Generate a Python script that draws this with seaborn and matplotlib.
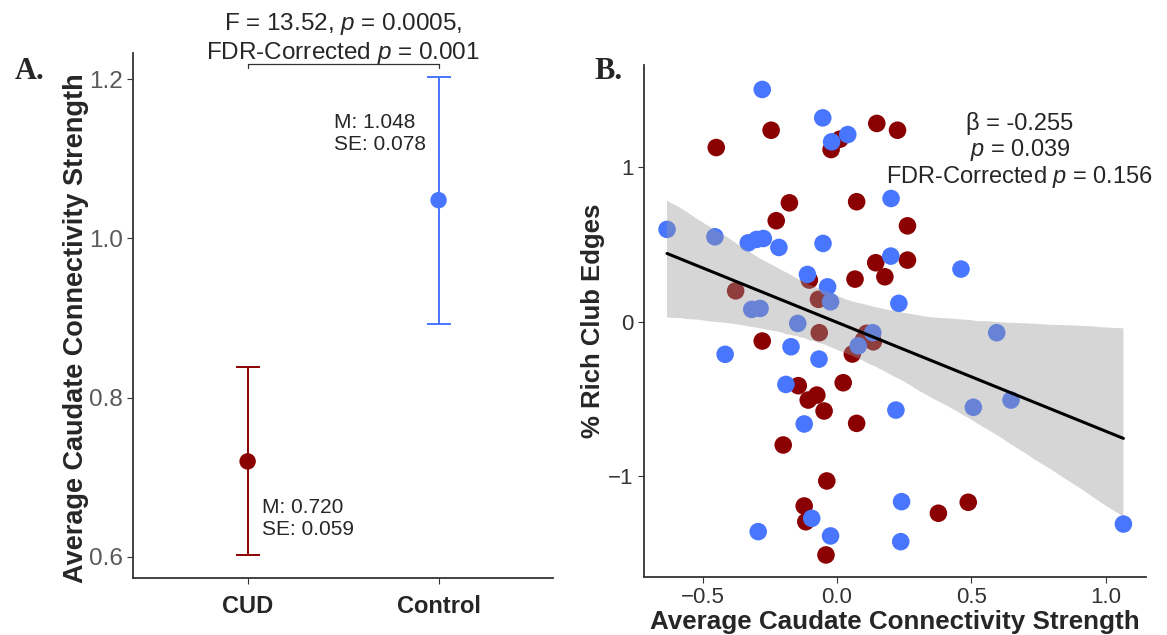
import numpy as np
import pandas as pd
import matplotlib.pyplot as plt
import seaborn as sns

# panel A: group means with error bars
groups = ['CUD', 'Control']
group_means = [0.720, 1.048]
group_se = [0.059, 0.078]
ci_low = [0.602, 0.893]
ci_high = [0.838, 1.203]

# panel B: caudate strength vs % rich club edges
cud_strength = [-0.449, -0.245, -0.022, 0.011, 0.148, 0.225, -0.177, 0.073, -0.226, 0.262,
                0.144, 0.262, 0.178, 0.067, -0.103, -0.377, -0.069, -0.278, -0.066, 0.110,
                0.135, 0.098, 0.057, -0.144, 0.023, -0.075, -0.107, -0.048, 0.073, -0.200,
                -0.038, -0.122, -0.116, -0.041, 0.377, 0.488]
cud_richclub = [1.127, 1.239, 1.114, 1.181, 1.283, 1.239, 0.769, 0.776, 0.653, 0.620,
                0.381, 0.398, 0.290, 0.275, 0.269, 0.199, 0.144, -0.126, -0.072, -0.076,
                -0.131, -0.120, -0.210, -0.415, -0.396, -0.476, -0.508, -0.579, -0.659, -0.799,
                -1.032, -1.194, -1.296, -1.511, -1.241, -1.170]
ctl_strength = [-0.278, -0.053, -0.020, 0.040, 0.201, -0.632, -0.454, -0.330, -0.299, -0.274,
                -0.216, -0.052, 0.200, 0.461, -0.110, -0.035, -0.024, 0.230, -0.317, -0.286,
                -0.146, 0.594, 0.133, 0.079, -0.171, -0.416, -0.067, -0.190, 0.219, 0.507,
                0.647, -0.122, 0.240, -0.094, -0.293, -0.024, 0.237, 1.065]
ctl_richclub = [1.503, 1.319, 1.164, 1.211, 0.797, 0.597, 0.549, 0.510, 0.532, 0.538,
                0.480, 0.506, 0.424, 0.340, 0.305, 0.225, 0.128, 0.118, 0.079, 0.085,
                -0.012, -0.072, -0.072, -0.157, -0.163, -0.212, -0.243, -0.407, -0.573, -0.555,
                -0.508, -0.663, -1.166, -1.274, -1.360, -1.388, -1.425, -1.311]

colors = {'CUD': '#8B0000', 'Control': '#4876FF'}

sns.set_style('ticks')
plt.rcParams['font.family'] = ['Liberation Sans', 'DejaVu Sans']
plt.rcParams['mathtext.fontset'] = 'custom'
plt.rcParams['mathtext.rm'] = 'Liberation Sans'
plt.rcParams['mathtext.it'] = 'Liberation Sans:italic'

fig = plt.figure(figsize=(11.67, 6.35), dpi=100)
ax1 = fig.add_axes([0.114, 0.0898, 0.360, 0.827])
ax2 = fig.add_axes([0.552, 0.0913, 0.430, 0.806])

# ---- panel A
summary = pd.DataFrame({'group': groups, 'mean': group_means, 'low': ci_low, 'high': ci_high})
sns.scatterplot(data=summary, x='group', y='mean', hue='group', palette=colors,
                s=140, edgecolor='none', legend=False, ax=ax1, zorder=3)
for _, row in summary.iterrows():
    ax1.errorbar([row['group']], [row['mean']],
                 yerr=[[row['mean'] - row['low']], [row['high'] - row['mean']]],
                 fmt='none', ecolor=colors[row['group']], elinewidth=1.4,
                 capsize=8.5, capthick=1.4)

ax1.text(0.075, 0.648, 'M: %.3f\nSE: %.3f' % (group_means[0], group_se[0]),
         ha='left', va='center', fontsize=15, linespacing=1.2)
ax1.text(0.45, 1.132, 'M: %.3f\nSE: %.3f' % (group_means[1], group_se[1]),
         ha='left', va='center', fontsize=15, linespacing=1.2)

ax1.plot([0, 0, 1, 1], [1.214, 1.219, 1.219, 1.214], color='#333333', lw=0.9, clip_on=False)
ax1.text(0.5, 1.251, 'F = 13.52, $p$ = 0.0005,\nFDR-Corrected $p$ = 0.001',
         ha='center', va='center', fontsize=17.5, linespacing=1.15, clip_on=False)

ax1.set_xlim(-0.6, 1.6)
ax1.set_ylim(0.5736, 1.233)
ax1.set_yticks([0.6, 0.8, 1.0, 1.2])
ax1.set_yticklabels(['0.6', '0.8', '1.0', '1.2'])
ax1.set_xlabel('')
ax1.set_ylabel('Average Caudate Connectivity Strength', fontsize=19.5, fontweight='bold')
ax1.yaxis.set_label_coords(-0.105, 0.476)
ax1.tick_params(axis='y', labelsize=17.5, labelcolor='#595959', length=4, color='#333333')
ax1.tick_params(axis='x', labelsize=17, length=4, color='#333333', pad=8)
for lab in ax1.get_xticklabels():
    lab.set_fontweight('bold')

# ---- panel B
df = pd.DataFrame({
    'strength': cud_strength + ctl_strength,
    'richclub': cud_richclub + ctl_richclub,
    'group': ['CUD'] * len(cud_strength) + ['Control'] * len(ctl_strength),
})
sns.scatterplot(data=df, x='strength', y='richclub', hue='group', palette=colors,
                s=160, edgecolor='none', legend=False, ax=ax2, zorder=2)
n_before = len(ax2.collections)
sns.regplot(data=df, x='strength', y='richclub', scatter=False, color='black',
            line_kws={'lw': 2.2, 'zorder': 4}, ax=ax2, seed=7, n_boot=2000)
for coll in ax2.collections[n_before:]:
    coll.set_alpha(None)
    coll.set_facecolor((0.6, 0.6, 0.6, 0.4))
    coll.set_edgecolor('none')
    coll.set_zorder(3)

ax2.text(0.68, 1.104, 'β = -0.255\n$p$ = 0.039\nFDR-Corrected $p$ = 0.156',
         ha='center', va='center', fontsize=17, linespacing=1.1)

ax2.set_xlim(-0.717, 1.149)
ax2.set_ylim(-1.654, 1.66)
ax2.set_xticks([-0.5, 0.0, 0.5, 1.0])
ax2.set_xticklabels(['\u22120.5', '0.0', '0.5', '1.0'])
ax2.set_yticks([-1, 0, 1])
ax2.set_yticklabels(['\u22121', '0', '1'])
ax2.set_xlabel('Average Caudate Connectivity Strength', fontsize=18.7, fontweight='bold', labelpad=1)
ax2.set_ylabel('% Rich Club Edges', fontsize=18.5, fontweight='bold', labelpad=2)
ax2.tick_params(labelsize=16, labelcolor='#333333', length=4, color='#333333')

for ax in (ax1, ax2):
    sns.despine(ax=ax)
    for side in ('left', 'bottom'):
        ax.spines[side].set_linewidth(1.3)
        ax.spines[side].set_color('#333333')

fig.text(0.013, 0.887, 'A.', family='Liberation Serif', fontweight='bold', fontsize=22, va='center')
fig.text(0.509, 0.887, 'B.', family='Liberation Serif', fontweight='bold', fontsize=22, va='center')

fig.savefig('out.png', dpi=100)
plt.close()
